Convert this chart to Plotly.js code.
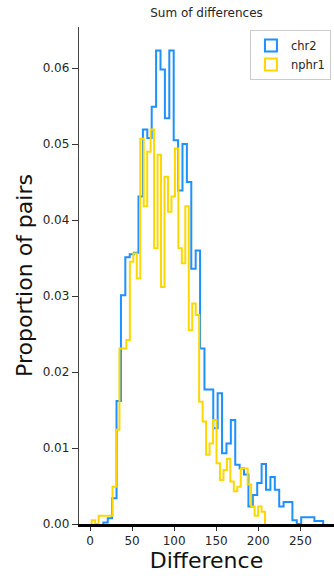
<!DOCTYPE html>
<html>
<head>
<meta charset="utf-8">
<script src="https://cdn.plot.ly/plotly-3.0.1.min.js"></script>
<style>html,body{margin:0;padding:0;background:#fff;}#chart{width:334px;height:576px;}</style>
</head>
<body>
<div id="chart"></div>
<script>
// ---- data (histogram proportions) ----
var seriesNames = ["chr2", "nphr1"];

// chr2: 50 equal bins
var chr2BinStart = 15.83;
var chr2BinWidth = 5.226;
var chr2Values = [
  0.0002, 0.00075, 0.0034, 0.0162, 0.0301, 0.0351, 0.0355, 0.0357, 0.0431, 0.0519,
  0.0508, 0.0549, 0.0623, 0.0598, 0.0534, 0.0623, 0.0505, 0.0439, 0.0500, 0.0450,
  0.0336, 0.0360, 0.0231, 0.0177, 0.0177, 0.0126, 0.0172, 0.0093, 0.0106, 0.0137,
  0.0078, 0.0073, 0.0065, 0.0023, 0.0038, 0.0054, 0.0079, 0.0045, 0.0062, 0.0045,
  0.0023, 0.0029, 0.0029, 0.0005, 0.0000, 0.0009, 0.0009, 0.0009, 0.0004, 0.0004
];

// nphr1: 50 equal bins
var nphr1BinStart = 2.02;
var nphr1BinWidth = 4.12;
var nphr1Values = [
  0.0005, 0.0000, 0.0011, 0.0011, 0.0011, 0.0011, 0.0049, 0.0124, 0.0231, 0.0231,
  0.0242, 0.0345, 0.0356, 0.0323, 0.0507, 0.0418, 0.0490, 0.0519, 0.0363, 0.0486,
  0.0312, 0.0457, 0.0411, 0.0431, 0.0494, 0.0363, 0.0343, 0.0418, 0.0255, 0.0290,
  0.0275, 0.0161, 0.0135, 0.0091, 0.0106, 0.0137, 0.0080, 0.0058, 0.0071, 0.0086,
  0.0056, 0.0043, 0.0049, 0.0073, 0.0073, 0.0052, 0.0023, 0.0011, 0.0023, 0.0016
];

var xTicks = [0, 50, 100, 150, 200, 250];
var yTicks = [0.00, 0.01, 0.02, 0.03, 0.04, 0.05, 0.06];

var colors = ["#1E90FF", "#FFD700"];

// build step outline (matplotlib histtype='step')
function stepOutline(start, width, vals) {
  var xs = [start], ys = [0];
  for (var i = 0; i < vals.length; i++) {
    xs.push(start + i * width);
    ys.push(vals[i]);
  }
  xs.push(start + vals.length * width);
  ys.push(0);
  return {x: xs, y: ys};
}

var s1 = stepOutline(chr2BinStart, chr2BinWidth, chr2Values);
var s2 = stepOutline(nphr1BinStart, nphr1BinWidth, nphr1Values);

var traces = [
  {type: "scatter", mode: "lines", x: s1.x, y: s1.y, line: {shape: "hv", color: colors[0], width: 2},
   showlegend: false, hoverinfo: "skip", cliponaxis: true},
  {type: "scatter", mode: "lines", x: s2.x, y: s2.y, line: {shape: "hv", color: colors[1], width: 2},
   showlegend: false, hoverinfo: "skip", cliponaxis: true},
  // legend entries (outlined rectangles)
  {type: "bar", x: [null], y: [null], name: seriesNames[0],
   marker: {color: "rgba(0,0,0,0)", line: {color: colors[0], width: 2}}},
  {type: "bar", x: [null], y: [null], name: seriesNames[1],
   marker: {color: "rgba(0,0,0,0)", line: {color: colors[1], width: 2}}}
];

var tickFont = {family: "DejaVu Sans", size: 12, color: "#262626"};

var layout = {
  width: 334, height: 576,
  margin: {l: 79, r: 0, t: 27, b: 52, pad: 0},
  paper_bgcolor: "#ffffff", plot_bgcolor: "#ffffff",
  showlegend: true,
  title: {text: "Sum of differences", font: {family: "DejaVu Sans", size: 12, color: "#262626"},
          x: 0.5, xref: "paper", xanchor: "center", y: 0.977, yref: "container", yanchor: "middle"},
  xaxis: {
    range: [-13.1, 290], tickvals: xTicks, ticktext: xTicks.map(String),
    showgrid: false, zeroline: false,
    showline: true, linecolor: "#000000", linewidth: 3,
    ticks: "outside", ticklen: 4, tickwidth: 1, tickcolor: "#333333",
    tickfont: tickFont,
    title: {text: "Difference", font: {family: "DejaVu Sans", size: 22, color: "#111111"}, standoff: 4}
  },
  yaxis: {
    range: [0, 0.0654], tickvals: yTicks, tickformat: ".2f",
    showgrid: false, zeroline: false,
    showline: true, linecolor: "#444444", linewidth: 1.2,
    ticks: "outside", ticklen: 6, tickwidth: 1, tickcolor: "#333333",
    tickfont: tickFont,
    title: {text: "Proportion of pairs", font: {family: "DejaVu Sans", size: 22, color: "#111111"}, standoff: 4}
  },
  legend: {
    x: 0.988, y: 0.994, xanchor: "right", yanchor: "top",
    bgcolor: "#ffffff", bordercolor: "#cccccc", borderwidth: 1,
    font: {family: "DejaVu Sans", size: 11.5, color: "#262626"},
    itemwidth: 30, tracegroupgap: 0
  }
};

Plotly.newPlot("chart", traces, layout, {staticPlot: true, displayModeBar: false});
</script>
</body>
</html>
